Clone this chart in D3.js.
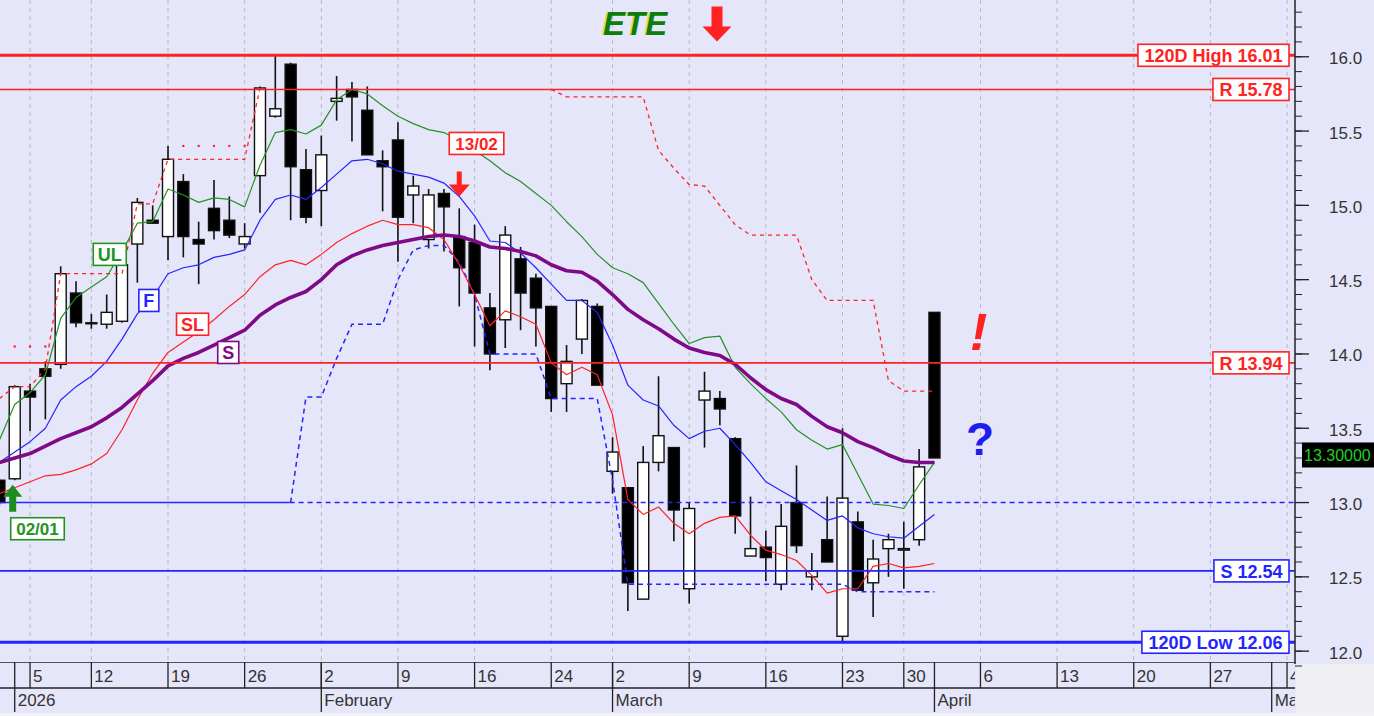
<!DOCTYPE html>
<html>
<head>
<meta charset="utf-8">
<script src="https://cdn.jsdelivr.net/npm/d3@7/dist/d3.min.js"></script>
<style>
	body{margin:0;background:#fff;overflow:hidden}
	svg{display:block;font-family:"Liberation Sans",Arial,sans-serif}
</style>
</head>
<body>
<svg id="chart" width="1374" height="716"></svg>
<script>
// trading calendar (Athens), first slot is 30 Dec 2025
var firstDay = "2025-12-30", lastDay = "2026-05-04"
var holidays = ["2025-12-31", "2026-01-01", "2026-01-06", "2026-02-23", "2026-03-25"]

// daily candles, one per trading day from 30 Dec
var open  = [13.15,13.16,13.75,13.90,13.93,14.41,14.21,14.20,14.22,14.74,14.90,14.79,15.16,14.77,14.98,14.90,14.74,15.20,15.60,15.95,15.24,15.10,15.70,15.78,15.64,15.30,15.44,15.07,14.77,15.08,14.79,14.75,14.31,14.23,14.64,14.51,14.32,13.80,14.10,14.32,13.21,13.10,12.35,13.27,13.37,12.42,13.69,13.70,13.43,12.64,12.70,12.45,13.00,12.50,12.75,12.10,12.87,12.46,12.69,12.68,12.75,14.28]
var high  = [13.16,13.79,13.80,13.95,14.59,14.49,14.27,14.40,14.62,15.05,15.00,15.40,15.21,14.89,15.17,15.06,14.88,15.80,16.01,15.96,15.38,15.47,15.87,15.83,15.80,15.37,15.56,15.20,15.11,15.11,14.98,14.87,14.41,14.86,14.72,14.54,14.32,14.06,14.37,14.34,13.44,13.10,13.38,13.85,13.37,13.00,13.88,13.75,13.44,13.04,12.81,12.99,13.25,12.66,13.04,13.50,12.94,12.75,12.79,12.87,13.36,14.28]
var low   = [12.98,13.15,13.48,13.56,13.90,14.18,14.17,14.17,14.21,14.48,14.88,14.63,14.65,14.47,14.77,14.78,14.71,14.95,15.59,14.90,14.88,14.86,15.57,15.43,15.34,14.96,14.62,14.88,14.71,14.69,14.32,14.05,13.89,14.04,14.16,14.05,13.61,13.61,14.00,13.79,13.06,12.27,12.35,13.21,12.74,12.32,13.37,13.52,12.79,12.64,12.47,12.41,12.66,12.41,12.60,12.06,12.41,12.23,12.50,12.42,12.71,13.30]
var close = [13.00,13.78,13.71,13.85,14.54,14.21,14.21,14.28,14.60,15.02,14.88,15.31,14.79,14.74,14.83,14.80,14.79,15.79,15.65,15.26,14.92,15.34,15.72,15.73,15.34,15.26,14.92,15.13,15.07,14.99,14.58,14.41,14.00,14.80,14.41,14.31,13.70,13.95,14.36,13.79,13.34,12.46,13.27,13.45,12.95,12.96,13.75,13.63,12.91,12.69,12.63,12.84,12.71,12.54,12.60,13.03,12.41,12.62,12.75,12.69,13.24,13.30]

// indicator lines, same slots as the candles
var lineNames = ["UL", "F", "SL", "S"]
var ulLine = [13.42,13.66,13.74,13.86,14.24,14.38,14.45,14.52,14.69,14.88,14.89,15.11,15.07,15.02,15.05,15.04,14.99,15.27,15.49,15.51,15.48,15.54,15.71,15.78,15.75,15.67,15.60,15.55,15.51,15.49,15.44,15.37,15.30,15.22,15.16,15.08,15.00,14.89,14.79,14.67,14.58,14.54,14.48,14.34,14.20,14.07,14.11,14.12,13.91,13.80,13.70,13.61,13.49,13.42,13.36,13.39,13.19,12.99,12.98,12.96,13.12,13.27]
var fLine  = [13.27,13.34,13.41,13.50,13.69,13.78,13.85,13.95,14.10,14.27,14.38,14.54,14.58,14.60,14.65,14.67,14.70,14.90,15.04,15.07,15.04,15.12,15.21,15.30,15.31,15.28,15.23,15.21,15.19,15.15,15.06,14.93,14.76,14.75,14.68,14.58,14.47,14.36,14.36,14.28,14.06,13.79,13.69,13.65,13.52,13.43,13.48,13.50,13.39,13.27,13.14,13.08,13.02,12.95,12.88,12.91,12.83,12.79,12.77,12.76,12.84,12.92]
var slLine = [13.06,13.10,13.14,13.18,13.19,13.22,13.26,13.33,13.49,13.69,13.87,14.01,14.08,14.15,14.23,14.32,14.40,14.52,14.60,14.63,14.60,14.67,14.75,14.81,14.86,14.90,14.87,14.87,14.85,14.77,14.60,14.40,14.19,14.29,14.25,14.20,13.94,13.86,13.91,13.86,13.59,13.02,12.92,12.97,12.86,12.79,12.86,12.90,12.91,12.78,12.68,12.65,12.61,12.51,12.39,12.42,12.42,12.57,12.59,12.56,12.57,12.59]
var sLine  = [13.27,13.30,13.33,13.38,13.43,13.47,13.51,13.57,13.64,13.73,13.82,13.92,13.97,14.01,14.06,14.11,14.16,14.26,14.33,14.38,14.42,14.50,14.60,14.66,14.70,14.73,14.75,14.77,14.79,14.80,14.79,14.76,14.72,14.71,14.69,14.66,14.60,14.56,14.55,14.49,14.40,14.30,14.23,14.17,14.10,14.04,14.01,13.99,13.93,13.84,13.76,13.70,13.66,13.58,13.51,13.47,13.41,13.37,13.32,13.28,13.27,13.27]
// where the small name tags sit (slot, price)
var lineTagSlot  = [7.2, 9.75, 12.6, 14.93]
var lineTagPrice = [14.67, 14.36, 14.20, 14.01]

// stepped stops (null = no value)
var upperStop = [13.70,13.78,13.78,13.90,14.54,14.54,14.54,14.54,14.54,15.01,15.01,15.31,15.31,15.31,15.31,15.31,15.31,15.79,
	null,null,null,null,null,null,null,null,null,null,null,null,null,null,null,null,null,null,
	15.78,15.73,15.73,15.73,15.73,15.73,15.73,15.37,15.25,15.14,15.13,15.00,14.87,14.80,14.80,14.80,14.80,14.50,14.36,14.36,14.36,14.36,13.82,13.75,13.75,13.75]
var lowerStop = [null,null,null,null,null,null,null,null,null,null,null,null,null,null,null,null,null,null,null,
	13.00,13.71,13.71,13.97,14.20,14.20,14.20,14.50,14.70,14.73,14.73,14.62,14.40,14.00,14.00,14.00,14.00,13.70,13.70,13.70,13.70,13.15,
	12.45,12.45,12.45,12.45,12.45,12.45,12.45,12.45,12.45,12.45,12.45,12.45,12.45,12.45,12.45,12.40,12.40,12.40,12.40,12.40,12.40]
// sparse red dots
var dotSlots  = [1, 2, 3, 12, 13, 14, 15, 16]
var dotPrices = [14.05, 14.05, 14.05, 15.40, 15.40, 15.40, 15.40, 15.40]

// horizontal levels
var levelPrices = [16.01, 15.78, 13.94, 12.54, 12.06]
var levelLabels = ["120D High 16.01", "R 15.78", "R 13.94", "S 12.54", "120D Low 12.06"]
var pivotPrice = 13.00, pivotSlot = 19

// signals
var buySlot = 1, buyPrice = 13.12, buyLabel = "02/01"
var sellSlot = 30, sellPrice = 15.06, sellLabel = "13/02"
var lastPrice = 13.30
var title = "ETE"
var yMajor = d3.range(12, 16.01, 0.5)
var yMinor = d3.range(119, 164).map(d => d / 10)

var W = 1374, H = 716, plotR = 1295, plotB = 662
var green = "#229322", red = "#ff2222", blue = "#2424ff", purple = "#7f0a86"

var parse = d3.timeParse("%Y-%m-%d"), fmt = d3.timeFormat("%Y-%m-%d")
var days = d3.timeDay.range(parse(firstDay), d3.timeDay.offset(parse(lastDay), 1))
	.filter(d => d.getDay() > 0 && d.getDay() < 6 && holidays.indexOf(fmt(d)) < 0)

var weekTicks = [], monthTicks = []
days.forEach(function(d, i){
	if(i == 0) return
	if(d3.timeMonday.floor(d) > days[i-1]) weekTicks.push({i: i, label: d.getDate()})
	if(d.getMonth() != days[i-1].getMonth())
		monthTicks.push({i: i, label: d.getMonth() == 0 ? String(d.getFullYear()) : d3.timeFormat("%B")(d)})
})

var x = d3.scaleLinear().domain([0.04, 84.52]).range([0, plotR])
var y = d3.scaleLinear().domain([11.927, 16.382]).range([plotB, 0])

var svg = d3.select("#chart")
svg.append("rect").attr("width", W).attr("height", H).attr("fill", "#e6e6fa")
svg.append("rect").attr("x", plotR + 1).attr("y", 664).attr("width", W - plotR).attr("height", H - 664).attr("fill", "#efeff1")
svg.append("rect").attr("x", 0).attr("y", 713).attr("width", W).attr("height", 3).attr("fill", "#f3f3f6")

var defs = svg.append("defs")
defs.append("clipPath").attr("id", "plotClip").append("rect").attr("width", plotR).attr("height", plotB)
defs.append("clipPath").attr("id", "axisClip").append("rect").attr("y", plotB).attr("width", plotR).attr("height", H - plotB)

var plot = svg.append("g").attr("clip-path", "url(#plotClip)")

// week grid
plot.selectAll(".grid").data(weekTicks).enter().append("line")
	.attr("x1", d => x(d.i)).attr("x2", d => x(d.i))
	.attr("y1", 0).attr("y2", plotB)
	.attr("stroke", "#b8b8bc").attr("stroke-width", 1).attr("stroke-dasharray", "4,4")

// candles
var candles = d3.range(open.length).map(i => ({i: i, o: open[i], h: high[i], l: low[i], c: close[i]}))
var bw = 11
plot.selectAll(".wick").data(candles).enter().append("line")
	.attr("x1", d => x(d.i)).attr("x2", d => x(d.i))
	.attr("y1", d => y(d.h)).attr("y2", d => y(d.l))
	.attr("stroke", "#111").attr("stroke-width", 1.6)
plot.selectAll(".body").data(candles).enter().append("rect")
	.attr("x", d => x(d.i) - bw / 2).attr("width", bw)
	.attr("y", d => y(Math.max(d.o, d.c)))
	.attr("height", d => Math.max(1, Math.abs(y(d.o) - y(d.c))))
	.attr("fill", d => d.c >= d.o ? "#fff" : "#000")
	.attr("stroke", "#111").attr("stroke-width", 1.4)

// indicator lines
var line = d3.line().defined(d => d[1] != null).x(d => x(d[0])).y(d => y(d[1]))
function series(arr){ return arr.map((v, i) => [i, v]) }

plot.append("path").datum(series(upperStop)).attr("d", line)
	.attr("fill", "none").attr("stroke", red).attr("stroke-width", 1.3).attr("stroke-dasharray", "4,4")
plot.append("path").datum(series(lowerStop)).attr("d", line)
	.attr("fill", "none").attr("stroke", blue).attr("stroke-width", 1.5).attr("stroke-dasharray", "5,4")
plot.selectAll(".dot").data(dotSlots).enter().append("circle")
	.attr("cx", d => x(d)).attr("cy", (d, k) => y(dotPrices[k])).attr("r", 1.2).attr("fill", red)

var lineData = [ulLine, fLine, slLine, sLine]
var lineColors = [green, blue, red, purple]
var lineWidths = [1.2, 1.2, 1.2, 3.6]
lineData.forEach(function(arr, k){
	plot.append("path").datum(series(arr)).attr("d", line)
		.attr("fill", "none").attr("stroke", lineColors[k]).attr("stroke-width", lineWidths[k])
		.attr("stroke-linejoin", "round")
})

// horizontal levels
var levelColors = [red, red, red, blue, blue]
var levelWidths = [3, 1.6, 1.6, 1.6, 3]
levelPrices.forEach(function(v, k){
	plot.append("line").attr("x1", 0).attr("x2", plotR).attr("y1", y(v)).attr("y2", y(v))
		.attr("stroke", levelColors[k]).attr("stroke-width", levelWidths[k])
})
plot.append("line").attr("x1", 0).attr("x2", x(pivotSlot) - 1).attr("y1", y(pivotPrice)).attr("y2", y(pivotPrice))
	.attr("stroke", blue).attr("stroke-width", 1.6)
plot.append("line").attr("x1", x(pivotSlot) - 1).attr("x2", plotR).attr("y1", y(pivotPrice)).attr("y2", y(pivotPrice))
	.attr("stroke", blue).attr("stroke-width", 1.6).attr("stroke-dasharray", "5,4")

// boxed tag: anchor point (ax, ay) is the box centre unless align says otherwise
function tag(g, ax, ay, text, color, size, align, pad){
	var t = g.append("text").text(text).attr("font-size", size).attr("font-weight", "bold")
		.attr("fill", color).attr("dominant-baseline", "central")
	var w = t.node().getComputedTextLength(), h = 22
	var left = align == "right" ? ax - w - 2 * pad : align == "left" ? ax : ax - w / 2 - pad
	t.attr("x", left + pad).attr("y", ay + 1)
	g.insert("rect", "text:last-child").attr("x", left).attr("y", ay - h / 2).attr("width", w + 2 * pad).attr("height", h)
		.attr("fill", "#fff").attr("stroke", color).attr("stroke-width", 1.6)
	return {left: left, w: w + 2 * pad, h: h}
}

lineNames.forEach(function(n, k){
	tag(plot.append("g"), x(lineTagSlot[k]), y(lineTagPrice[k]), n, lineColors[k], 18, "centre", 4.5)
})
levelPrices.forEach(function(v, k){
	tag(plot.append("g"), 1289, y(v), levelLabels[k], levelColors[k], 18, "right", 6.5)
})

// arrows
function arrow(g, cx, tip, dir, headW, headH, shaftW, len, color){
	var s = dir // 1 = pointing down, -1 = pointing up
	var p = [[cx, tip], [cx - headW / 2, tip - s * headH], [cx - shaftW / 2, tip - s * headH],
		[cx - shaftW / 2, tip - s * len], [cx + shaftW / 2, tip - s * len], [cx + shaftW / 2, tip - s * headH],
		[cx + headW / 2, tip - s * headH]]
	g.append("path").attr("d", "M" + p.join("L") + "Z").attr("fill", color)
}
var bx = x(buySlot) - 2, by = y(buyPrice)
arrow(plot, bx, by, -1, 19, 12, 7, 27, "#1c8c1c")
tag(plot.append("g"), bx - 2, by + 44, buyLabel, green, 17, "left", 5.5)

var sx = x(sellSlot), sy = y(sellPrice)
arrow(plot, sx, sy, 1, 21, 12, 5, 25, red)
tag(plot.append("g"), sx - 10, sy - 53, sellLabel, red, 17, "left", 6)

// title and marks
svg.append("text").attr("x", 601.5).attr("y", 35).text(title)
	.attr("font-size", 33).attr("font-weight", "bold").attr("font-style", "italic").attr("fill", "#dede40")
svg.append("text").attr("x", 603).attr("y", 35).text(title)
	.attr("font-size", 33).attr("font-weight", "bold").attr("font-style", "italic").attr("fill", "#0d7d0d")
arrow(svg, 717, 41.5, 1, 29, 15, 11, 35, red)
svg.append("text").attr("x", 970).attr("y", 350).text("!")
	.attr("font-size", 52).attr("font-weight", "bold").attr("font-style", "italic").attr("fill", red)
svg.append("text").attr("x", 966).attr("y", 455).text("?")
	.attr("font-size", 46).attr("font-weight", "bold").attr("fill", "#1e1ef0")

// price axis
var ax = svg.append("g")
ax.append("line").attr("x1", plotR).attr("x2", plotR).attr("y1", 0).attr("y2", plotB + 2).attr("stroke", "#222").attr("stroke-width", 1.5)
ax.selectAll(".mi").data(yMinor).enter().append("line")
	.attr("x1", plotR).attr("x2", plotR + 7).attr("y1", d => y(d)).attr("y2", d => y(d)).attr("stroke", "#222")
ax.selectAll(".ma").data(yMajor).enter().append("line")
	.attr("x1", plotR).attr("x2", plotR + 14).attr("y1", d => y(d)).attr("y2", d => y(d)).attr("stroke", "#222").attr("stroke-width", 1.3)
ax.selectAll(".lb").data(yMajor).enter().append("text")
	.attr("x", 1329).attr("y", d => y(d) + 2).attr("dominant-baseline", "central")
	.attr("font-size", 17).attr("fill", "#333").text(d3.format(".1f"))

// last price box
var ly = y(lastPrice) - 3
svg.append("rect").attr("x", 1302).attr("y", ly - 12.5).attr("width", 72).attr("height", 25).attr("fill", "#000")
svg.append("text").attr("x", 1304).attr("y", ly + 1).attr("dominant-baseline", "central")
	.attr("font-size", 16).attr("fill", "#1ed21e").text(d3.format(".5f")(lastPrice))

// date axis
var dx = svg.append("g").attr("clip-path", "url(#axisClip)")
dx.append("line").attr("x1", 0).attr("x2", plotR).attr("y1", plotB).attr("y2", plotB).attr("stroke", "#222").attr("stroke-width", 1.5)
dx.append("line").attr("x1", 0).attr("x2", plotR).attr("y1", 688).attr("y2", 688).attr("stroke", "#222").attr("stroke-width", 1.3)
dx.selectAll(".wt").data(weekTicks).enter().append("line")
	.attr("x1", d => x(d.i)).attr("x2", d => x(d.i)).attr("y1", plotB).attr("y2", 688).attr("stroke", "#222").attr("stroke-width", 1.3)
dx.selectAll(".wl").data(weekTicks).enter().append("text")
	.attr("x", d => x(d.i) + 3).attr("y", 682).attr("font-size", 17).attr("fill", "#333").text(d => d.label)
dx.selectAll(".mt").data(monthTicks).enter().append("line")
	.attr("x1", d => x(d.i)).attr("x2", d => x(d.i)).attr("y1", plotB).attr("y2", 712).attr("stroke", "#222").attr("stroke-width", 1.3)
dx.selectAll(".ml").data(monthTicks).enter().append("text")
	.attr("x", d => x(d.i) + 3).attr("y", 706).attr("font-size", 17).attr("fill", "#333").text(d => d.label)
</script>
</body>
</html>
